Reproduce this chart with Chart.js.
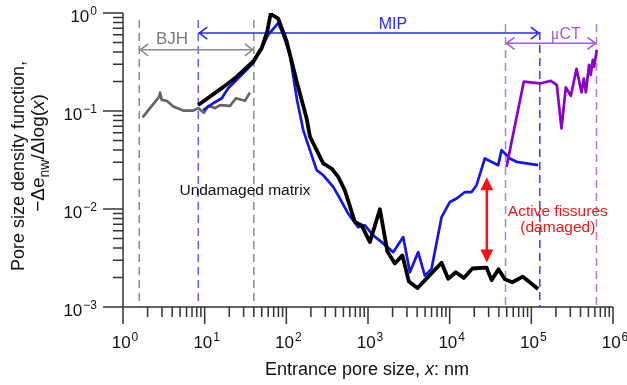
<!DOCTYPE html>
<html>
<head>
<meta charset="utf-8">
<script src="https://cdn.jsdelivr.net/npm/chart.js@4"></script>
<style>
  body { margin: 0; background: #fff; }
  #wrap { width: 627px; height: 385px; }
</style>
</head>
<body>
<div id="wrap"><canvas id="poreChart"></canvas></div>
<script>
// undamaged matrix (MIP), black
var matrixX = [8.35, 16.2, 24.7, 39.3, 49.9, 58.4, 64.2, 79.6, 101, 134, 177, 195, 283, 358, 432, 521, 691, 835, 1055, 1400, 1727, 2134, 2637, 3168, 4027, 7960, 9590, 11900, 14900, 18970, 28300, 32600, 39600, 47400, 58500, 78700, 121000];
var matrixY = [0.115, 0.171, 0.224, 0.320, 0.438, 0.648, 0.977, 0.874, 0.512, 0.200, 0.0842, 0.0546, 0.0292, 0.0259, 0.0213, 0.0155, 0.00736, 0.00681, 0.00459, 0.00993, 0.00369, 0.00278, 0.00336, 0.00182, 0.00156, 0.00283, 0.00194, 0.00226, 0.00198, 0.00247, 0.00252, 0.00188, 0.00243, 0.00192, 0.00179, 0.00204, 0.00153];

// damaged sample (MIP), blue
var damagedX = [9.6, 12.7, 16.2, 19.4, 24.7, 39.3, 52.1, 60, 79.6, 91.6, 110.6, 135, 161, 235, 283, 375, 453, 572, 759, 916, 1158, 1468, 2034, 2697, 3258, 4115, 4966, 6000, 7960, 10070, 12160, 15360, 18550, 21350, 26970, 39260, 43200, 54600, 65900, 121000];
var damagedY = [0.102, 0.120, 0.135, 0.171, 0.208, 0.308, 0.474, 0.600, 0.790, 0.600, 0.374, 0.130, 0.0639, 0.0249, 0.0221, 0.0168, 0.0128, 0.00897, 0.00654, 0.00681, 0.00538, 0.00459, 0.00363, 0.00517, 0.00226, 0.00363, 0.00209, 0.00245, 0.00828, 0.0118, 0.0128, 0.0149, 0.0149, 0.0175, 0.0328, 0.0280, 0.0399, 0.0328, 0.0303, 0.0280];

// BJH, grey
var bjhX = [1.74, 2.14, 2.78, 2.84, 2.98, 3.43, 4.13, 5.47, 7.26, 8.35, 9.8, 11.1, 13.4, 15.4, 20.4, 24.2, 31.1, 35.8];
var bjhY = [0.086, 0.107, 0.140, 0.154, 0.130, 0.127, 0.111, 0.101, 0.101, 0.107, 0.096, 0.113, 0.107, 0.115, 0.113, 0.135, 0.127, 0.154];

// micro CT, purple
var uctX = [49700, 80900, 127000, 173000, 205000, 234000, 264500, 304600, 357600, 411400, 439200, 464900, 509700, 534500, 566000, 587000, 633400];
var uctY = [0.0269, 0.1995, 0.191, 0.203, 0.185, 0.0665, 0.174, 0.143, 0.269, 0.155, 0.214, 0.155, 0.296, 0.234, 0.333, 0.282, 0.421];

// tick labels are 10^n
var xTickExp = [0, 1, 2, 3, 4, 5, 6];
var yTickExp = [-3, -2, -1, 0];

// measurement ranges (nm)
var bjhRange = [1.58, 40];
var mipRange = [8.35, 127000];
var uctRange = [48300, 628000];

var SANS = '"Liberation Sans", Arial, sans-serif';

function pts(xs, ys) {
  return xs.map(function (x, i) { return { x: x, y: ys[i] }; });
}

function supText(ctx, exp, x, y, align) {
  var e = exp < 0 ? '\u2212' + (-exp) : String(exp);
  ctx.font = '17px ' + SANS;
  var wb = ctx.measureText('10').width;
  ctx.font = '12px ' + SANS;
  var we = ctx.measureText(e).width;
  var total = wb + 1 + we;
  var left = align === 'center' ? x - total / 2 : x - total;
  ctx.textAlign = 'left';
  ctx.textBaseline = 'alphabetic';
  ctx.font = '17px ' + SANS;
  ctx.fillText('10', left, y);
  ctx.font = '12px ' + SANS;
  ctx.fillText(e, left + wb + 1, y - 7);
}

function vDash(ctx, x, top, bottom, color) {
  ctx.save();
  ctx.strokeStyle = color;
  ctx.lineWidth = 1.5;
  ctx.setLineDash([8, 5]);
  ctx.beginPath();
  ctx.moveTo(x, top);
  ctx.lineTo(x, bottom);
  ctx.stroke();
  ctx.restore();
}

function hArrow(ctx, x1, x2, y, color) {
  ctx.save();
  ctx.strokeStyle = color;
  ctx.lineWidth = 1.6;
  ctx.beginPath();
  ctx.moveTo(x1, y); ctx.lineTo(x2, y);
  ctx.moveTo(x1 + 9, y - 6); ctx.lineTo(x1 + 1, y); ctx.lineTo(x1 + 9, y + 6);
  ctx.moveTo(x2 - 9, y - 6); ctx.lineTo(x2 - 1, y); ctx.lineTo(x2 - 9, y + 6);
  ctx.stroke();
  ctx.restore();
}

var decor = {
  id: 'decor',
  beforeDatasetsDraw: function (chart) {
    var ctx = chart.ctx, xs = chart.scales.x, ys = chart.scales.y;
    var bottom = chart.chartArea.bottom;
    vDash(ctx, xs.getPixelForValue(bjhRange[0]), 20, bottom, '#8a8a8a');
    vDash(ctx, xs.getPixelForValue(bjhRange[1]), 20, bottom, '#8a8a8a');
    vDash(ctx, xs.getPixelForValue(mipRange[0]), 20, bottom, '#6060ff');
    vDash(ctx, xs.getPixelForValue(mipRange[1]), 32, bottom, '#3a3aff');
    vDash(ctx, xs.getPixelForValue(uctRange[0]), 24, bottom, '#b57ae0');
    vDash(ctx, xs.getPixelForValue(uctRange[1]), 24, bottom, '#b57ae0');

    hArrow(ctx, xs.getPixelForValue(bjhRange[0]), xs.getPixelForValue(bjhRange[1]), ys.getPixelForValue(0.421), '#8a8a8a');
    hArrow(ctx, xs.getPixelForValue(mipRange[0]), xs.getPixelForValue(mipRange[1]), ys.getPixelForValue(0.624), '#2a2aff');
    hArrow(ctx, xs.getPixelForValue(uctRange[0]), xs.getPixelForValue(uctRange[1]), ys.getPixelForValue(0.491), '#a55ad8');
  },
  afterDatasetsDraw: function (chart) {
    var ctx = chart.ctx, xs = chart.scales.x, ys = chart.scales.y;
    var a = chart.chartArea;
    ctx.save();

    // axes
    ctx.strokeStyle = '#333';
    ctx.lineWidth = 1.5;
    ctx.beginPath();
    ctx.moveTo(a.left, a.top); ctx.lineTo(a.left, a.bottom);
    ctx.moveTo(a.left - 20, a.bottom); ctx.lineTo(a.right, a.bottom);
    // y ticks
    yTickExp.forEach(function (e, i) {
      var p = ys.getPixelForValue(Math.pow(10, e));
      ctx.moveTo(a.left - 20, p); ctx.lineTo(a.left, p);
      if (i < yTickExp.length - 1) {
        for (var k = 2; k < 10; k++) {
          var q = ys.getPixelForValue(k * Math.pow(10, e));
          ctx.moveTo(a.left - 10, q); ctx.lineTo(a.left, q);
        }
      }
    });
    // x ticks
    xTickExp.forEach(function (e, i) {
      var p = xs.getPixelForValue(Math.pow(10, e));
      ctx.moveTo(p, a.bottom); ctx.lineTo(p, a.bottom + 17);
      if (i < xTickExp.length - 1) {
        for (var k = 2; k < 10; k++) {
          var q = xs.getPixelForValue(k * Math.pow(10, e));
          ctx.moveTo(q, a.bottom); ctx.lineTo(q, a.bottom + 10);
        }
      }
    });
    ctx.stroke();

    // tick labels
    ctx.fillStyle = '#111';
    yTickExp.forEach(function (e) {
      supText(ctx, e, 97, ys.getPixelForValue(Math.pow(10, e)) + 9, 'right');
    });
    xTickExp.forEach(function (e) {
      supText(ctx, e, xs.getPixelForValue(Math.pow(10, e)) + 2, a.bottom + 41, 'center');
    });

    // x title
    ctx.font = '18px ' + SANS;
    var t1 = 'Entrance pore size, ', t3 = ': nm';
    var w1 = ctx.measureText(t1).width, w3 = ctx.measureText(t3).width;
    ctx.font = 'italic 18px ' + SANS;
    var w2 = ctx.measureText('x').width;
    var sx = 367 - (w1 + w2 + w3) / 2;
    ctx.textAlign = 'left';
    ctx.font = '18px ' + SANS;
    ctx.fillText(t1, sx, 375);
    ctx.font = 'italic 18px ' + SANS;
    ctx.fillText('x', sx + w1, 375);
    ctx.font = '18px ' + SANS;
    ctx.fillText(t3, sx + w1 + w2, 375);

    // y title (two lines, rotated)
    ctx.save();
    ctx.translate(24, 166);
    ctx.rotate(-Math.PI / 2);
    ctx.textAlign = 'center';
    ctx.font = '18px ' + SANS;
    ctx.fillText('Pore size density function,', 0, 0);
    ctx.restore();

    ctx.save();
    ctx.translate(44, 153);
    ctx.rotate(-Math.PI / 2);
    var parts = [
      ['\u2212\u0394e', '19px ' + SANS, 0],
      ['nw', '14px ' + SANS, 5],
      ['/\u0394log(', '19px ' + SANS, 0],
      ['x', 'italic 19px ' + SANS, 0],
      [')', '19px ' + SANS, 0]
    ];
    var tw = 0;
    parts.forEach(function (p) { ctx.font = p[1]; tw += ctx.measureText(p[0]).width; });
    var cx = -tw / 2;
    ctx.textAlign = 'left';
    parts.forEach(function (p) {
      ctx.font = p[1];
      ctx.fillText(p[0], cx, p[2]);
      cx += ctx.measureText(p[0]).width;
    });
    ctx.restore();

    // range labels
    ctx.textAlign = 'center';
    ctx.fillStyle = '#7a7a7a';
    ctx.font = '17px ' + SANS;
    ctx.fillText('BJH', xs.getPixelForValue(3.98), ys.getPixelForValue(0.485));
    ctx.fillStyle = '#2a2aff';
    ctx.font = '16px ' + SANS;
    ctx.fillText('MIP', xs.getPixelForValue(2018), ys.getPixelForValue(0.691));
    ctx.fillStyle = '#a55ad8';
    var ux = xs.getPixelForValue(264000), uy = ys.getPixelForValue(0.546);
    ctx.font = '16px "Liberation Serif", serif';
    var wm = ctx.measureText('\u03bc').width;
    ctx.font = '16px ' + SANS;
    var wc = ctx.measureText('CT').width;
    ctx.textAlign = 'left';
    ctx.font = '16px "Liberation Serif", serif';
    ctx.fillText('\u03bc', ux - (wm + wc) / 2, uy);
    ctx.font = '16px ' + SANS;
    ctx.fillText('CT', ux - (wm + wc) / 2 + wm, uy);

    // annotations
    ctx.textAlign = 'center';
    ctx.fillStyle = '#111';
    ctx.font = '15.5px ' + SANS;
    ctx.fillText('Undamaged matrix', xs.getPixelForValue(31.1), ys.getPixelForValue(0.0138));
    ctx.fillStyle = '#ff1010';
    ctx.fillText('Active fissures', xs.getPixelForValue(211000), ys.getPixelForValue(0.00843));
    ctx.fillText('(damaged)', xs.getPixelForValue(211000), ys.getPixelForValue(0.00578));

    // red double arrow between the two curves
    var rx = xs.getPixelForValue(28500);
    var rt = ys.getPixelForValue(0.0211), rb = ys.getPixelForValue(0.00285);
    ctx.strokeStyle = '#ff1010';
    ctx.lineWidth = 2.5;
    ctx.beginPath();
    ctx.moveTo(rx, rt + 10); ctx.lineTo(rx, rb - 10);
    ctx.stroke();
    ctx.beginPath();
    ctx.moveTo(rx, rt); ctx.lineTo(rx - 6.5, rt + 13); ctx.lineTo(rx + 6.5, rt + 13); ctx.closePath();
    ctx.moveTo(rx, rb); ctx.lineTo(rx - 6.5, rb - 13); ctx.lineTo(rx + 6.5, rb - 13); ctx.closePath();
    ctx.fill();

    ctx.restore();
  }
};

new Chart(document.getElementById('poreChart'), {
  type: 'scatter',
  data: {
    datasets: [{
      label: 'Undamaged matrix',
      data: pts(matrixX, matrixY),
      borderColor: '#000',
      borderWidth: 3.8
    }, {
      label: 'Micro CT',
      data: pts(uctX, uctY),
      borderColor: '#8a00cc',
      borderWidth: 2.7
    }, {
      label: 'Damaged',
      data: pts(damagedX, damagedY),
      borderColor: '#1414ee',
      borderWidth: 2.7
    }, {
      label: 'BJH',
      data: pts(bjhX, bjhY),
      borderColor: '#666',
      borderWidth: 2.7
    }]
  },
  options: {
    responsive: true,
    maintainAspectRatio: false,
    animation: false,
    showLine: true,
    elements: {
      point: { radius: 0 },
      line: { tension: 0, fill: false, borderJoinStyle: 'round', borderCapStyle: 'butt' }
    },
    layout: {
      padding: { left: 123, right: 14, top: 13, bottom: 78 }
    },
    scales: {
      x: { type: 'logarithmic', min: 1, max: 1e6, display: false },
      y: { type: 'logarithmic', min: 1e-3, max: 1, display: false }
    },
    plugins: {
      legend: { display: false },
      tooltip: { enabled: false }
    }
  },
  plugins: [decor]
});
</script>
</body>
</html>
